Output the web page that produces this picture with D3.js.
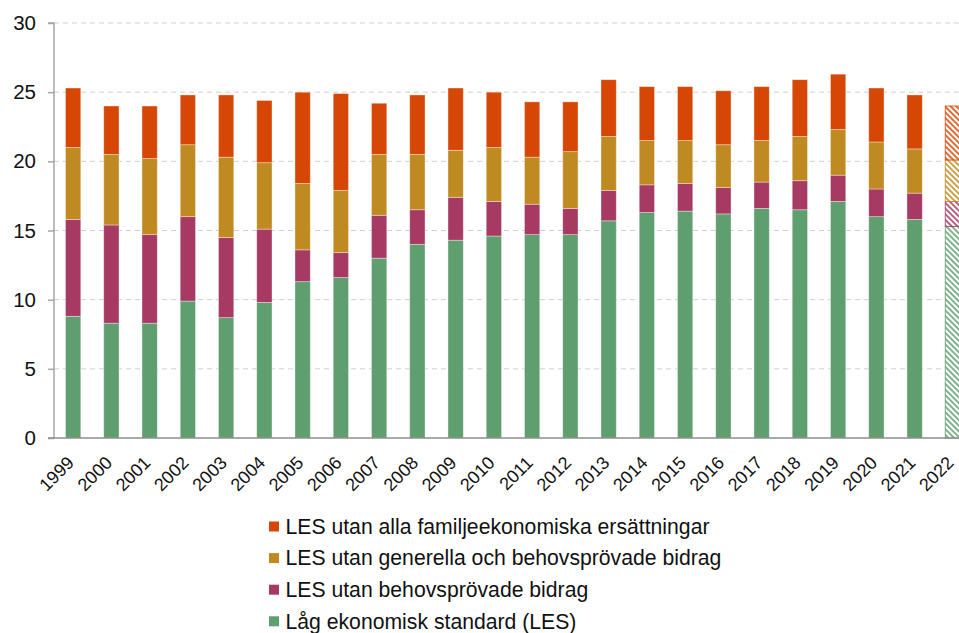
<!DOCTYPE html>
<html>
<head>
<meta charset="utf-8">
<script src="https://cdn.jsdelivr.net/npm/d3@7"></script>
<style>
  html, body { margin: 0; padding: 0; background: #fff; overflow: hidden; }
  svg { display: block; font-family: "Liberation Sans", Arial, sans-serif; }
</style>
</head>
<body>
<svg id="chart"></svg>
<script>
// Andel (procent) – nivåer per mått, staplade ovanpå varandra
const years = ['1999','2000','2001','2002','2003','2004','2005','2006','2007','2008','2009','2010',
  '2011','2012','2013','2014','2015','2016','2017','2018','2019','2020','2021','2022'];

const lesLevel = [8.8, 8.3, 8.3, 9.9, 8.7, 9.8, 11.3, 11.6, 13.0, 14.0, 14.3, 14.6,
  14.7, 14.7, 15.7, 16.3, 16.4, 16.2, 16.6, 16.5, 17.1, 16.0, 15.8, 15.3];
const utanBehovLevel = [15.8, 15.4, 14.7, 16.0, 14.5, 15.1, 13.6, 13.4, 16.1, 16.5, 17.4, 17.1,
  16.9, 16.6, 17.9, 18.3, 18.4, 18.1, 18.5, 18.6, 19.0, 18.0, 17.7, 17.1];
const utanGenLevel = [21.0, 20.5, 20.2, 21.2, 20.3, 19.9, 18.4, 17.9, 20.5, 20.5, 20.8, 21.0,
  20.3, 20.7, 21.8, 21.5, 21.5, 21.2, 21.5, 21.8, 22.3, 21.4, 20.9, 20.1];
const utanAllaLevel = [25.3, 24.0, 24.0, 24.8, 24.8, 24.4, 25.0, 24.9, 24.2, 24.8, 25.3, 25.0,
  24.3, 24.3, 25.9, 25.4, 25.4, 25.1, 25.4, 25.9, 26.3, 25.3, 24.8, 24.0];

const projectedYears = ['2022'];
const yTicks = [0, 5, 10, 15, 20, 25, 30];

const seriesNames = [
  'Låg ekonomisk standard (LES)',
  'LES utan behovsprövade bidrag',
  'LES utan generella och behovsprövade bidrag',
  'LES utan alla familjeekonomiska ersättningar'
];
const seriesColors = ['#5f9e6e', '#a63a63', '#c08a22', '#d64705'];
const seriesLevels = [lesLevel, utanBehovLevel, utanGenLevel, utanAllaLevel];

const width = 959, height = 633;
const margin = { top: 23, left: 54, bottom: 438 };
const step = 38.25;

const svg = d3.select('#chart')
  .attr('width', width)
  .attr('height', height);

// the last band runs a little past the right edge, like in the original
const x = d3.scaleBand()
  .domain(years)
  .range([margin.left, margin.left + step * years.length])
  .paddingInner(0.6)
  .paddingOuter(0.3);

const y = d3.scaleLinear()
  .domain([0, 30])
  .range([margin.bottom, margin.top]);

// Hatch patterns for the 2022 bar
const defs = svg.append('defs');
seriesColors.forEach((c, i) => {
  const p = defs.append('pattern')
    .attr('id', 'hatch' + i)
    .attr('patternUnits', 'userSpaceOnUse')
    .attr('width', 4)
    .attr('height', 4)
    .attr('patternTransform', 'rotate(-45)');
  p.append('rect').attr('width', 4).attr('height', 4).attr('fill', '#fff');
  p.append('line')
    .attr('x1', 1).attr('y1', 0).attr('x2', 1).attr('y2', 4)
    .attr('stroke', c)
    .attr('stroke-width', 1.6);
});

// Gridlines
svg.append('g')
  .selectAll('line')
  .data(yTicks.filter(t => t > 0))
  .join('line')
  .attr('x1', margin.left)
  .attr('x2', width)
  .attr('y1', d => y(d))
  .attr('y2', d => y(d))
  .attr('stroke', '#d0d0d0')
  .attr('stroke-width', 1)
  .attr('stroke-dasharray', '5,4');

// Stacked segments
const segments = [];
years.forEach((yr, i) => {
  seriesLevels.forEach((lv, s) => {
    const lo = s === 0 ? 0 : seriesLevels[s - 1][i];
    segments.push({ year: yr, s, lo, hi: lv[i] });
  });
});

svg.append('g')
  .selectAll('rect')
  .data(segments)
  .join('rect')
  .attr('x', d => x(d.year))
  .attr('width', x.bandwidth())
  .attr('y', d => y(d.hi))
  .attr('height', d => y(d.lo) - y(d.hi))
  .attr('fill', d => projectedYears.includes(d.year) ? `url(#hatch${d.s})` : seriesColors[d.s])
  .attr('stroke', d => projectedYears.includes(d.year) ? seriesColors[d.s] : 'rgba(255,255,255,0.45)')
  .attr('stroke-width', 0.8);

// Y axis
const yAxis = svg.append('g')
  .attr('transform', `translate(${margin.left},0)`)
  .call(d3.axisLeft(y).tickValues(yTicks).tickSize(6).tickPadding(12));
yAxis.select('.domain').attr('stroke', '#a6a6a6').attr('stroke-width', 1.5)
  .attr('d', `M-6,${y(30)}H0V${y(0)}`);
yAxis.selectAll('.tick line').attr('stroke', '#a6a6a6').attr('stroke-width', 1.5);
yAxis.selectAll('.tick text')
  .attr('font-size', 20.5)
  .attr('fill', '#111')
  .attr('font-family', '"Liberation Sans", Arial, sans-serif');

// Baseline
svg.append('line')
  .attr('x1', margin.left - 6)
  .attr('x2', width)
  .attr('y1', y(0))
  .attr('y2', y(0))
  .attr('stroke', '#8c8c8c')
  .attr('stroke-width', 1.5);

// X labels, rotated
svg.append('g')
  .selectAll('text')
  .data(years)
  .join('text')
  .attr('transform', d => `translate(${x(d) + x.bandwidth() / 2 - 7},${y(0) + 17}) rotate(-45)`)
  .attr('text-anchor', 'end')
  .attr('dy', '0.7em')
  .attr('font-size', 18)
  .attr('fill', '#111')
  .text(d => d);

// Legend (top to bottom: reversed stack order)
const legend = svg.append('g')
  .attr('transform', 'translate(269,526.5)');
const legendItems = seriesNames.map((n, i) => ({ n, c: seriesColors[i] })).reverse();
const li = legend.selectAll('g')
  .data(legendItems)
  .join('g')
  .attr('transform', (d, i) => `translate(0,${i * 31.6})`);
li.append('rect')
  .attr('x', 0)
  .attr('y', -5)
  .attr('width', 10)
  .attr('height', 10)
  .attr('fill', d => d.c);
li.append('text')
  .attr('x', 16.5)
  .attr('dy', '0.34em')
  .attr('font-size', 21.2)
  .attr('fill', '#111')
  .text(d => d.n);
</script>
</body>
</html>
